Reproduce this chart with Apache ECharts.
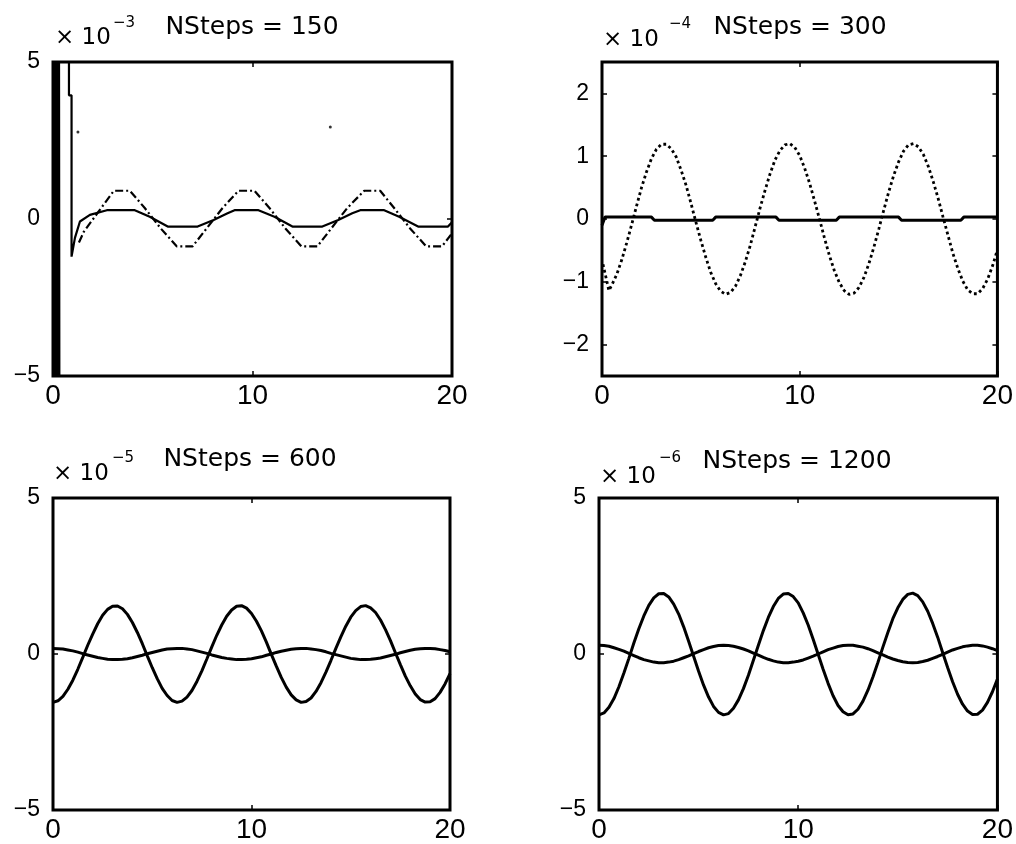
<!DOCTYPE html>
<html>
<head>
<meta charset="utf-8">
<script src="https://cdn.jsdelivr.net/npm/echarts@6/dist/echarts.min.js"></script>
<style>
  html, body { margin: 0; padding: 0; background: #fff; }
  #chart { width: 1016px; height: 844px; }
</style>
</head>
<body>
<div id="chart"></div>
<script>
// Error curves of the integrator for four step counts (values in units of the panel multiplier)
const panelTitles = ['NSteps = 150', 'NSteps = 300', 'NSteps = 600', 'NSteps = 1200'];
const panelExponents = ['\u22123', '\u22124', '\u22125', '\u22126'];
const yTickValuesWide = [-5, 0, 5];
const yTickValuesNarrow = [-2, -1, 0, 1, 2];

// sample positions for the smooth curves
const X_STEPS = [0, 0.25, 0.5, 0.75, 1, 1.25, 1.5, 1.75, 2, 2.25, 2.5, 2.75, 3, 3.25, 3.5, 3.75,
  4, 4.25, 4.5, 4.75, 5, 5.25, 5.5, 5.75, 6, 6.25, 6.5, 6.75, 7, 7.25, 7.5, 7.75,
  8, 8.25, 8.5, 8.75, 9, 9.25, 9.5, 9.75, 10, 10.25, 10.5, 10.75, 11, 11.25, 11.5, 11.75,
  12, 12.25, 12.5, 12.75, 13, 13.25, 13.5, 13.75, 14, 14.25, 14.5, 14.75, 15, 15.25, 15.5, 15.75,
  16, 16.25, 16.5, 16.75, 17, 17.25, 17.5, 17.75, 18, 18.25, 18.5, 18.75, 19, 19.25, 19.5, 19.75, 20];

// NSteps = 150 : unstable start, solid error and dash-dot error
const P1_BURST = [[0, 9], [0.03, -9], [0.06, 9], [0.09, -9], [0.12, 9], [0.15, -9], [0.18, 9],
  [0.21, -9], [0.24, 9], [0.27, -9], [0.30, 9], [0.33, -9]];
const P1_SOLID = [[0.8, 9], [0.8, 3.94], [0.93, 3.94], [0.93, -1.2], [1.1, -0.6], [1.35, -0.08],
  [1.85, 0.13], [2.7, 0.28], [4.1, 0.28], [4.85, 0.07], [5.75, -0.24], [7.25, -0.24], [8.05, -0.03],
  [8.75, 0.18], [9.1, 0.28], [10.3, 0.28], [11.1, 0.07], [12.0, -0.24], [13.5, -0.24], [14.3, -0.03],
  [15.0, 0.18], [15.4, 0.28], [16.6, 0.28], [17.35, 0.07], [18.3, -0.24], [19.8, -0.24], [20, -0.1]];
const P1_DASHDOT = [[1.3, -0.75], [1.55, -0.4], [2.3, 0.25], [3.05, 0.9], [3.85, 0.9], [4.6, 0.35],
  [5.4, -0.3], [6.2, -0.87], [7.0, -0.87], [7.7, -0.3], [8.5, 0.35], [9.3, 0.9], [10.1, 0.9],
  [10.85, 0.35], [11.65, -0.3], [12.45, -0.87], [13.25, -0.87], [13.95, -0.3], [14.75, 0.35],
  [15.6, 0.9], [16.4, 0.9], [17.1, 0.35], [17.9, -0.3], [18.7, -0.87], [19.5, -0.87], [19.95, -0.5]];
const P1_STRAY = [[1.25, 2.77], [13.9, 2.93]];

// NSteps = 300
const P2_SOLID = [[0, -0.1], [0.15, 0.03], [2.5, 0.03], [2.65, -0.02], [5.6, -0.02], [5.75, 0.03],
  [8.8, 0.03], [8.95, -0.02], [11.85, -0.02], [12.0, 0.03], [15.0, 0.03], [15.15, -0.02],
  [18.15, -0.02], [18.3, 0.03], [20, 0.03]];
const P2_DOTTED_HEAD = [[0.05, -0.72], [0.35, -1.14]];
// dotted curve from x = 0.5 onwards
const P2_DOTTED = [-1.05, -0.88, -0.65, -0.38, -0.09, 0.21, 0.50, 0.75, 0.96, 1.11, 1.19, 1.19,
  1.12, 0.99, 0.78, 0.54, 0.25, -0.05, -0.34, -0.61, -0.85, -1.03, -1.15, -1.20, -1.17, -1.07,
  -0.90, -0.68, -0.42, -0.12, 0.18, 0.46, 0.72, 0.94, 1.09, 1.18, 1.20, 1.14, 1.01, 0.81,
  0.57, 0.29, 0.00, -0.30, -0.58, -0.82, -1.01, -1.14, -1.20, -1.18, -1.09, -0.93, -0.71, -0.45,
  -0.16, 0.14, 0.43, 0.69, 0.91, 1.08, 1.18, 1.20, 1.15, 1.03, 0.84, 0.60, 0.33, 0.03,
  -0.26, -0.55, -0.79, -0.99, -1.13, -1.19, -1.19, -1.11, -0.96, -0.75, -0.49];

// NSteps = 600
const P3_BIG = [-1.55, -1.50, -1.36, -1.13, -0.84, -0.49, -0.11, 0.28, 0.64, 0.97, 1.24, 1.43,
  1.53, 1.54, 1.45, 1.27, 1.01, 0.69, 0.33, -0.06, -0.44, -0.79, -1.10, -1.33, -1.49, -1.55,
  -1.51, -1.38, -1.17, -0.88, -0.54, -0.16, 0.23, 0.60, 0.93, 1.21, 1.41, 1.53, 1.55, 1.47,
  1.30, 1.05, 0.74, 0.38, -0.01, -0.39, -0.75, -1.06, -1.31, -1.47, -1.55, -1.52, -1.41, -1.20,
  -0.92, -0.58, -0.21, 0.18, 0.55, 0.89, 1.18, 1.39, 1.52, 1.55, 1.48, 1.33, 1.09, 0.78,
  0.43, 0.04, -0.34, -0.71, -1.02, -1.28, -1.46, -1.54, -1.53, -1.43, -1.23, -0.96, -0.63];
const P3_SMALL = [0.18, 0.17, 0.16, 0.13, 0.10, 0.06, 0.01, -0.03, -0.07, -0.11, -0.14, -0.17,
  -0.18, -0.18, -0.17, -0.15, -0.12, -0.08, -0.04, 0.01, 0.05, 0.09, 0.13, 0.16, 0.17, 0.18,
  0.18, 0.16, 0.14, 0.10, 0.06, 0.02, -0.03, -0.07, -0.11, -0.14, -0.16, -0.18, -0.18, -0.17,
  -0.15, -0.12, -0.09, -0.04, 0.00, 0.05, 0.09, 0.12, 0.15, 0.17, 0.18, 0.18, 0.16, 0.14,
  0.11, 0.07, 0.02, -0.02, -0.06, -0.10, -0.14, -0.16, -0.18, -0.18, -0.17, -0.15, -0.13, -0.09,
  -0.05, -0.01, 0.04, 0.08, 0.12, 0.15, 0.17, 0.18, 0.18, 0.17, 0.14, 0.11, 0.07];

// NSteps = 1200
const P4_BIG = [-1.95, -1.89, -1.71, -1.43, -1.05, -0.61, -0.14, 0.35, 0.81, 1.22, 1.56, 1.80,
  1.93, 1.94, 1.83, 1.60, 1.28, 0.87, 0.41, -0.07, -0.55, -1.00, -1.38, -1.68, -1.87, -1.95,
  -1.91, -1.74, -1.47, -1.11, -0.68, -0.20, 0.28, 0.75, 1.17, 1.52, 1.78, 1.92, 1.94, 1.84,
  1.64, 1.32, 0.93, 0.47, -0.01, -0.49, -0.94, -1.34, -1.65, -1.85, -1.95, -1.92, -1.77, -1.51,
  -1.16, -0.74, -0.27, 0.22, 0.69, 1.13, 1.48, 1.75, 1.91, 1.95, 1.87, 1.67, 1.37, 0.98,
  0.54, 0.05, -0.43, -0.89, -1.29, -1.61, -1.83, -1.94, -1.93, -1.80, -1.55, -1.21, -0.80];
const P4_SMALL = [0.28, 0.27, 0.25, 0.20, 0.15, 0.09, 0.02, -0.05, -0.12, -0.18, -0.22, -0.26,
  -0.28, -0.28, -0.26, -0.23, -0.18, -0.12, -0.06, 0.01, 0.08, 0.14, 0.20, 0.24, 0.27, 0.28,
  0.27, 0.25, 0.21, 0.16, 0.10, 0.03, -0.04, -0.11, -0.17, -0.22, -0.26, -0.28, -0.28, -0.26,
  -0.23, -0.19, -0.13, -0.07, 0.00, 0.07, 0.14, 0.19, 0.24, 0.27, 0.28, 0.28, 0.25, 0.22,
  0.17, 0.11, 0.04, -0.03, -0.10, -0.16, -0.21, -0.25, -0.27, -0.28, -0.27, -0.24, -0.20, -0.14,
  -0.08, -0.01, 0.06, 0.13, 0.18, 0.23, 0.26, 0.28, 0.28, 0.26, 0.22, 0.17, 0.11];

const pairs = (xs, ys) => ys.map((y, i) => [xs[i], y]);

const grids = [
  { left: 53, top: 62, width: 399, height: 314 },
  { left: 602, top: 62, width: 400, height: 314 },
  { left: 53, top: 498, width: 397, height: 312 },
  { left: 599, top: 498, width: 401, height: 312 }
];
const yRanges = [[-5, 5], [-2.5, 2.5], [-5, 5], [-5, 5]];
const yTickSets = [yTickValuesWide, yTickValuesNarrow, yTickValuesWide, yTickValuesWide];

const tickFont = "'Liberation Sans', Arial, sans-serif";
const textFont = "'DejaVu Sans', 'Liberation Sans', sans-serif";
const minus = v => (v < 0 ? '\u2212' + Math.abs(v) : String(v));

const tick = { show: true, inside: true, length: 5, lineStyle: { color: '#000', width: 1.5 } };
const hiddenLine = { show: false, onZero: false };

const xAxes = [], yAxes = [];
grids.forEach((g, i) => {
  const xBase = { type: 'value', gridIndex: i, min: 0, max: 20, interval: 10,
    axisLine: hiddenLine, splitLine: { show: false } };
  xAxes.push(Object.assign({}, xBase, {
    position: 'bottom',
    axisTick: tick,
    axisLabel: { show: true, margin: 6, color: '#000', fontFamily: tickFont, fontSize: 28, formatter: minus }
  }));
  xAxes.push(Object.assign({}, xBase, {
    position: 'top', axisTick: tick, axisLabel: { show: false }
  }));
  const ticks = yTickSets[i];
  const yBase = { type: 'value', gridIndex: i, min: yRanges[i][0], max: yRanges[i][1],
    axisLine: hiddenLine, splitLine: { show: false } };
  yAxes.push(Object.assign({}, yBase, {
    position: 'left',
    axisTick: Object.assign({}, tick, { customValues: ticks }),
    axisLabel: { show: true, margin: 13, color: '#000', fontFamily: tickFont, fontSize: 23,
      formatter: minus, customValues: ticks }
  }));
  yAxes.push(Object.assign({}, yBase, {
    position: 'right',
    axisTick: Object.assign({}, tick, { customValues: ticks }),
    axisLabel: { show: false }
  }));
});

function line(panel, data, style) {
  return {
    type: 'line', xAxisIndex: panel * 2, yAxisIndex: panel * 2, data: data,
    showSymbol: false, symbol: 'none', smooth: false, clip: true,
    lineStyle: Object.assign({ color: '#000' }, style), silent: true
  };
}

const series = [
  line(0, P1_BURST, { width: 2 }),
  line(0, P1_SOLID, { width: 2.2 }),
  line(0, P1_DASHDOT, { width: 2.2, type: [8, 3, 2, 3] }),
  { type: 'scatter', xAxisIndex: 0, yAxisIndex: 0, data: P1_STRAY, symbolSize: 3,
    itemStyle: { color: '#000' }, silent: true },
  line(1, P2_SOLID, { width: 3 }),
  line(1, P2_DOTTED_HEAD.concat(pairs(X_STEPS.slice(2), P2_DOTTED)), { width: 2.8, type: [2.8, 3] }),
  line(2, pairs(X_STEPS, P3_BIG), { width: 3 }),
  line(2, pairs(X_STEPS, P3_SMALL), { width: 3 }),
  line(3, pairs(X_STEPS, P4_BIG), { width: 3 }),
  line(3, pairs(X_STEPS, P4_SMALL), { width: 3 })
];

// panel headings: step count, plus the "x 10^n" multiplier of the y axis
const titlePos = [[252, 15], [800, 15], [250, 447], [797, 449]];
const multPos = [[55, 27, 113, 16], [603, 29, 669, 17], [53, 463, 112, 451], [600, 466, 659, 451]];
const titles = [];
panelTitles.forEach((t, i) => {
  titles.push({ text: t, left: titlePos[i][0], top: titlePos[i][1], textAlign: 'center', padding: 0,
    textStyle: { fontFamily: textFont, fontSize: 25, fontWeight: 'normal', color: '#000' } });
  titles.push({ text: '\u00d7 10', left: multPos[i][0], top: multPos[i][1], padding: 0,
    textStyle: { fontFamily: textFont, fontSize: 23, fontWeight: 'normal', color: '#000' } });
  titles.push({ text: panelExponents[i], left: multPos[i][2], top: multPos[i][3], padding: 0,
    textStyle: { fontFamily: textFont, fontSize: 15, fontWeight: 'normal', color: '#000' } });
});

const chart = echarts.init(document.getElementById('chart'), null, { renderer: 'canvas' });
chart.setOption({
  animation: false,
  backgroundColor: '#fff',
  title: titles,
  grid: grids.map(g => Object.assign({ show: true, borderColor: '#000', borderWidth: 3,
    backgroundColor: 'transparent', containLabel: false }, g)),
  xAxis: xAxes,
  yAxis: yAxes,
  series: series
});
</script>
</body>
</html>
